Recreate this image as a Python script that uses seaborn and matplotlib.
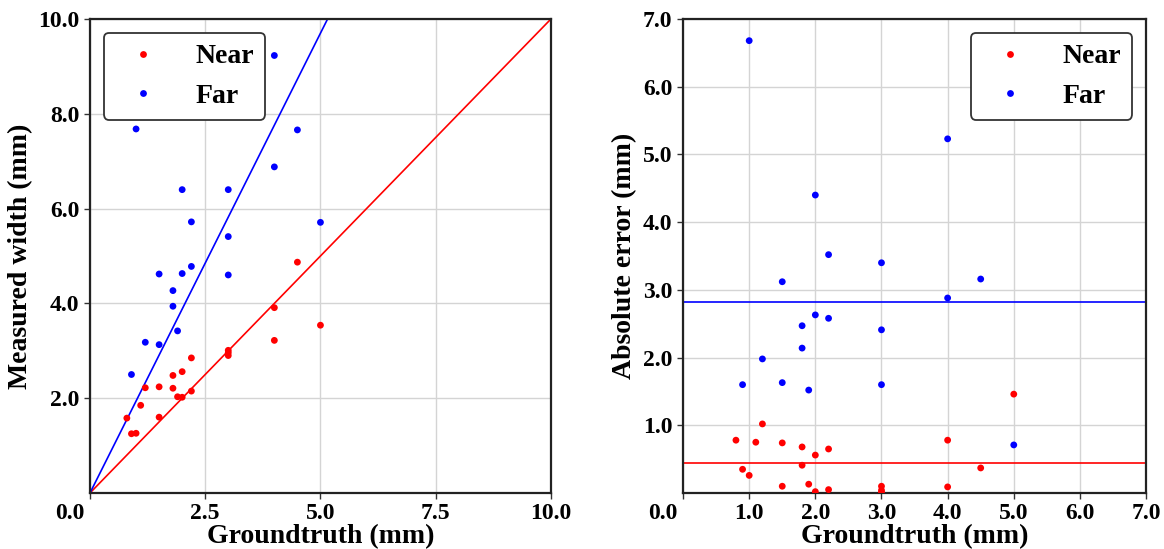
import numpy as np
import pandas as pd
import seaborn as sns
import matplotlib.pyplot as plt
from matplotlib.transforms import ScaledTranslation

# groundtruth / measured width (mm)
near_gt = [0.8, 0.9, 1.0, 1.1, 1.2, 1.5, 1.5, 1.8, 1.8, 1.9, 2.0, 2.0, 2.2, 2.2,
           3.0, 3.0, 3.0, 4.0, 4.0, 4.5, 5.0]
near_measured = [1.58, 1.25, 1.26, 1.85, 2.22, 2.24, 1.60, 2.48, 2.21, 2.03, 2.56, 2.02,
                 2.85, 2.15, 3.01, 2.96, 2.90, 3.91, 3.22, 4.87, 3.54]
far_gt = [1.0, 4.0, 2.0, 2.2, 3.0, 4.5, 1.5, 4.0, 2.0, 2.2, 1.8, 3.0, 1.8, 1.2,
          0.9, 1.5, 1.9, 3.0, 5.0]
far_measured = [7.68, 9.23, 6.40, 5.72, 6.40, 7.66, 4.62, 6.88, 4.63, 4.78, 4.27,
                5.41, 3.94, 3.18, 2.50, 3.13, 3.42, 4.60, 5.71]

near_slope = 1.0
far_slope = 1.94

left_xticks = [0.0, 2.5, 5.0, 7.5, 10.0]
left_yticks = [2.0, 4.0, 6.0, 8.0, 10.0]
right_xticks = [0.0, 1.0, 2.0, 3.0, 4.0, 5.0, 6.0, 7.0]
right_yticks = [1.0, 2.0, 3.0, 4.0, 5.0, 6.0, 7.0]

df = pd.DataFrame({
    'gt': near_gt + far_gt,
    'measured': near_measured + far_measured,
    'group': ['Near'] * len(near_gt) + ['Far'] * len(far_gt),
})
df['error'] = (df['measured'] - df['gt']).abs()
mean_err = df.groupby('group')['error'].mean()

palette = {'Near': '#ff0000', 'Far': '#0000ff'}

sns.set_style('white')
plt.rcParams['font.family'] = ['Liberation Serif', 'DejaVu Serif']
plt.rcParams['font.weight'] = 'bold'
plt.rcParams['axes.labelweight'] = 'bold'
plt.rcParams['text.color'] = 'black'
plt.rcParams['axes.labelcolor'] = 'black'
plt.rcParams['xtick.color'] = 'black'
plt.rcParams['ytick.color'] = 'black'

fig = plt.figure(figsize=(11.64, 5.49), dpi=100)
ax1 = fig.add_axes([0.0773, 0.102, 0.396, 0.8634])
ax2 = fig.add_axes([0.5868, 0.102, 0.3978, 0.8634])

sns.scatterplot(data=df, x='gt', y='measured', hue='group', palette=palette,
                s=24, linewidth=0, ax=ax1, zorder=3)
ax1.axline((0, 0), slope=near_slope, color=palette['Near'], lw=1.2, zorder=2)
ax1.axline((0, 0), slope=far_slope, color=palette['Far'], lw=1.2, zorder=2)
ax1.set_xlim(0, 10)
ax1.set_ylim(0, 10)
ax1.set_xticks(left_xticks)
ax1.set_yticks(left_yticks)
ax1.set_xlabel('Groundtruth (mm)', fontsize=20, labelpad=0)
ax1.set_ylabel('Measured width (mm)', fontsize=20)

sns.scatterplot(data=df, x='gt', y='error', hue='group', palette=palette,
                s=24, linewidth=0, ax=ax2, zorder=3)
for g in ['Near', 'Far']:
    ax2.axhline(mean_err[g], color=palette[g], lw=1.2, zorder=2)
ax2.set_xlim(0, 7)
ax2.set_ylim(0, 7)
ax2.set_xticks(right_xticks)
ax2.set_yticks(right_yticks)
ax2.set_xlabel('Groundtruth (mm)', fontsize=20, labelpad=0)
ax2.set_ylabel('Absolute error (mm)', fontsize=20)

shift = ScaledTranslation(-0.2, 0, fig.dpi_scale_trans)
for ax, loc in [(ax1, 'upper left'), (ax2, 'upper right')]:
    ax.grid(True, color='#d4d4d4', lw=1)
    ax.set_axisbelow(True)
    ax.xaxis.set_major_formatter(plt.FormatStrFormatter('%.1f'))
    ax.yaxis.set_major_formatter(plt.FormatStrFormatter('%.1f'))
    ax.tick_params(labelsize=17, length=4, width=1, direction='out',
                   bottom=True, left=True, color='#333333', labelcolor='black')
    for sp in ax.spines.values():
        sp.set_color('#222222')
        sp.set_linewidth(1.6)
    lbl = ax.get_xticklabels()[0]
    lbl.set_transform(lbl.get_transform() + shift)
    leg = ax.legend(loc=loc, fontsize=20, frameon=True, fancybox=True,
                    handletextpad=0.9, framealpha=1, markerscale=1.0)
    leg.get_frame().set_edgecolor('#333333')
    leg.get_frame().set_linewidth(1.3)
    for t in leg.get_texts():
        t.set_color('black')

fig.savefig('out.png', dpi=100)
